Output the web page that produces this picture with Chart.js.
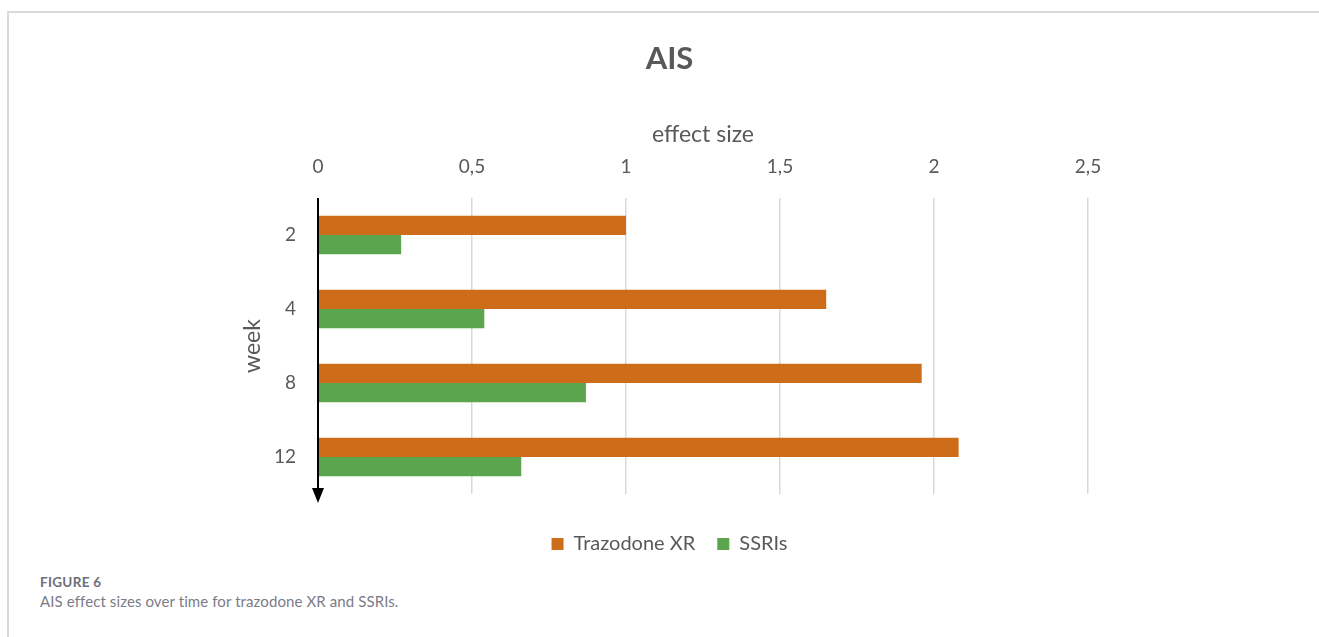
<!DOCTYPE html>
<html>
<head>
<meta charset="utf-8">
<title>AIS</title>
<script src="https://cdn.jsdelivr.net/npm/chart.js@4.4.1/dist/chart.umd.min.js"></script>
<style>
  html, body { margin: 0; padding: 0; background: #fff; }
  body { width: 1319px; height: 637px; position: relative; overflow: hidden; }
  #frame {
    position: absolute; left: 7px; top: 11px; right: -4px; bottom: -4px;
    border-top: 2px solid #d9d9d9; border-left: 2px solid #d9d9d9;
  }
  #chartBox { position: absolute; left: 0; top: 0; width: 1319px; height: 564px; }
  #caption { position: absolute; left: 40px; top: 574px; font-family: Lato, "Open Sans", sans-serif; }
  #caption .fig { font-size: 13.5px; font-weight: 700; color: #6d6d7a; letter-spacing: 0.3px; line-height: 17px; }
  #caption .txt { font-size: 15px; color: #7b7b88; line-height: 20px; letter-spacing: 0.1px; }
</style>
</head>
<body>
<div id="frame"></div>
<div id="chartBox"><canvas id="chart"></canvas></div>
<div id="caption">
  <div class="fig">FIGURE 6</div>
  <div class="txt">AIS effect sizes over time for trazodone XR and SSRIs.</div>
</div>
<script>
const weeks = ['2', '4', '8', '12'];
const trazodoneXR = [1.0, 1.65, 1.96, 2.08];
const ssris = [0.27, 0.54, 0.87, 0.66];
const xTickLabels = ['0', '0,5', '1', '1,5', '2', '2,5'];

document.addEventListener("DOMContentLoaded", function () {
  const ctx = document.getElementById("chart").getContext("2d");
  const textColor = '#595959';
  Chart.defaults.font.family = 'Lato, "Open Sans", sans-serif';
  Chart.defaults.color = textColor;

  // down arrow along the week axis
  const weekArrow = {
    id: 'weekArrow',
    afterDatasetsDraw(chart) {
      const { ctx, chartArea } = chart;
      const x = chartArea.left;
      const tip = chartArea.bottom + 9;
      ctx.save();
      ctx.strokeStyle = '#000';
      ctx.fillStyle = '#000';
      ctx.lineWidth = 2;
      ctx.beginPath();
      ctx.moveTo(x, chartArea.top);
      ctx.lineTo(x, tip - 10);
      ctx.stroke();
      ctx.beginPath();
      ctx.moveTo(x - 6, tip - 15);
      ctx.lineTo(x + 6, tip - 15);
      ctx.lineTo(x, tip);
      ctx.closePath();
      ctx.fill();
      ctx.restore();
    }
  };

  new Chart(ctx, {
    type: 'bar',
    data: {
      labels: weeks,
      datasets: [
        { label: 'Trazodone XR', data: trazodoneXR, backgroundColor: '#cd6d1a', xAxisID: 'x', yAxisID: 'y' },
        { label: 'SSRIs', data: ssris, backgroundColor: '#5ba54e', xAxisID: 'x', yAxisID: 'y' }
      ]
    },
    options: {
      indexAxis: 'y',
      responsive: true,
      maintainAspectRatio: false,
      animation: false,
      datasets: { bar: { categoryPercentage: 0.52, barPercentage: 1.0 } },
      layout: { padding: { left: 20, right: 0, top: 0, bottom: 0 } },
      scales: {
        x: {
          position: 'top',
          min: 0,
          max: 2.5,
          ticks: {
            stepSize: 0.5,
            padding: 19.5,
            font: { size: 19 },
            color: textColor,
            callback: (value, index) => xTickLabels[index]
          },
          grid: {
            drawTicks: false,
            lineWidth: 1.5,
            color: c => (c.tick && c.tick.value === 0) ? 'rgba(0,0,0,0)' : '#d9d9d9'
          },
          border: { display: false },
          title: { display: true, text: 'effect size', font: { size: 23 }, color: textColor, padding: { top: 5, bottom: 0 } },
          afterFit: scale => { scale.height = 82.3; }
        },
        y: {
          position: 'left',
          ticks: { padding: 22, font: { size: 19 }, color: textColor },
          grid: { display: false, drawTicks: false },
          border: { display: false },
          title: { display: true, text: 'week', font: { size: 23 }, color: textColor, padding: { top: 219, bottom: 0 } },
          afterFit: scale => { scale.width = 298; }
        },
        spacerRight: {
          type: 'linear',
          position: 'right',
          display: true,
          ticks: { display: false },
          grid: { display: false, drawTicks: false },
          border: { display: false },
          afterFit: scale => { scale.width = 231; }
        },
        spacerBottom: {
          type: 'linear',
          position: 'bottom',
          display: true,
          ticks: { display: false },
          grid: { display: false, drawTicks: false },
          border: { display: false },
          afterFit: scale => { scale.height = 18; }
        }
      },
      plugins: {
        title: {
          display: true,
          text: 'AIS',
          color: textColor,
          font: { size: 31, weight: 'bold' },
          padding: { top: 40, bottom: 38.5 }
        },
        legend: {
          position: 'bottom',
          labels: { boxWidth: 12, boxHeight: 12, padding: 22, font: { size: 20 }, color: textColor }
        },
        tooltip: { enabled: false }
      }
    },
    plugins: [weekArrow]
  });
});
</script>
</body>
</html>
